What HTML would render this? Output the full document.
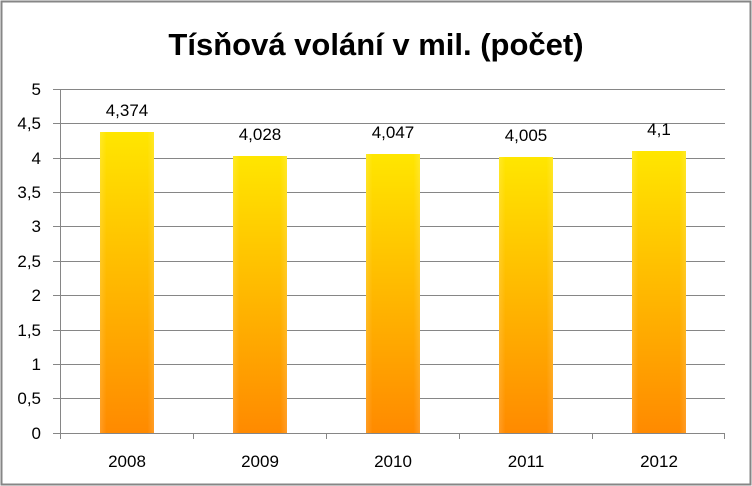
<!DOCTYPE html>
<html><head><style>body{margin:0;background:#fff}svg{display:block}</style></head><body>
<svg width="752" height="486" xmlns="http://www.w3.org/2000/svg" font-family="Liberation Sans, Arial, sans-serif">
<defs>
<linearGradient id="g" x1="0" y1="0" x2="0" y2="1"><stop offset="0" stop-color="#ffe600"/><stop offset="0.5" stop-color="#ffb800"/><stop offset="1" stop-color="#ff8a00"/></linearGradient>
<linearGradient id="h" x1="0" y1="0" x2="1" y2="0"><stop offset="0" stop-color="#fff" stop-opacity="0.15"/><stop offset="0.12" stop-color="#fff" stop-opacity="0"/><stop offset="0.88" stop-color="#fff" stop-opacity="0"/><stop offset="1" stop-color="#fff" stop-opacity="0.15"/></linearGradient>
</defs>
<rect x="1.5" y="1.5" width="749" height="483" fill="#fff" stroke="#868686" stroke-width="2"/>
<text x="376" y="55" text-anchor="middle" font-size="31" font-weight="bold" fill="#000">Tísňová volání v mil. (počet)</text>
<g stroke="#868686" stroke-width="1">
<line x1="53" y1="89.5" x2="725" y2="89.5"/><line x1="53" y1="123.5" x2="725" y2="123.5"/><line x1="53" y1="158.5" x2="725" y2="158.5"/><line x1="53" y1="192.5" x2="725" y2="192.5"/><line x1="53" y1="226.5" x2="725" y2="226.5"/><line x1="53" y1="261.5" x2="725" y2="261.5"/><line x1="53" y1="295.5" x2="725" y2="295.5"/><line x1="53" y1="330.5" x2="725" y2="330.5"/><line x1="53" y1="364.5" x2="725" y2="364.5"/><line x1="53" y1="398.5" x2="725" y2="398.5"/><line x1="53" y1="433.5" x2="725" y2="433.5"/>
<line x1="60.5" y1="89" x2="60.5" y2="439"/>
<line x1="193.5" y1="433" x2="193.5" y2="439"/><line x1="326.5" y1="433" x2="326.5" y2="439"/><line x1="459.5" y1="433" x2="459.5" y2="439"/><line x1="592.5" y1="433" x2="592.5" y2="439"/><line x1="724.5" y1="433" x2="724.5" y2="439"/>
</g>
<g font-size="17" fill="#000" text-anchor="end">
<text x="41" y="95">5</text><text x="41" y="129">4,5</text><text x="41" y="164">4</text><text x="41" y="198">3,5</text><text x="41" y="232">3</text><text x="41" y="267">2,5</text><text x="41" y="301">2</text><text x="41" y="336">1,5</text><text x="41" y="370">1</text><text x="41" y="404">0,5</text><text x="41" y="439">0</text>
</g>
<g>
<rect x="100" y="132" width="54" height="301" fill="url(#g)"/><rect x="100" y="132" width="54" height="301" fill="url(#h)"/>
<rect x="233" y="156" width="54" height="277" fill="url(#g)"/><rect x="233" y="156" width="54" height="277" fill="url(#h)"/>
<rect x="366" y="154" width="54" height="279" fill="url(#g)"/><rect x="366" y="154" width="54" height="279" fill="url(#h)"/>
<rect x="499" y="157" width="54" height="276" fill="url(#g)"/><rect x="499" y="157" width="54" height="276" fill="url(#h)"/>
<rect x="632" y="151" width="54" height="282" fill="url(#g)"/><rect x="632" y="151" width="54" height="282" fill="url(#h)"/>
</g>
<g font-size="17" fill="#000" text-anchor="middle">
<text x="127" y="116">4,374</text><text x="260" y="140">4,028</text><text x="393" y="138">4,047</text><text x="526" y="141">4,005</text><text x="659" y="135">4,1</text>
<text x="127" y="467">2008</text><text x="260" y="467">2009</text><text x="393" y="467">2010</text><text x="526" y="467">2011</text><text x="659" y="467">2012</text>
</g>
</svg>
</body></html>
